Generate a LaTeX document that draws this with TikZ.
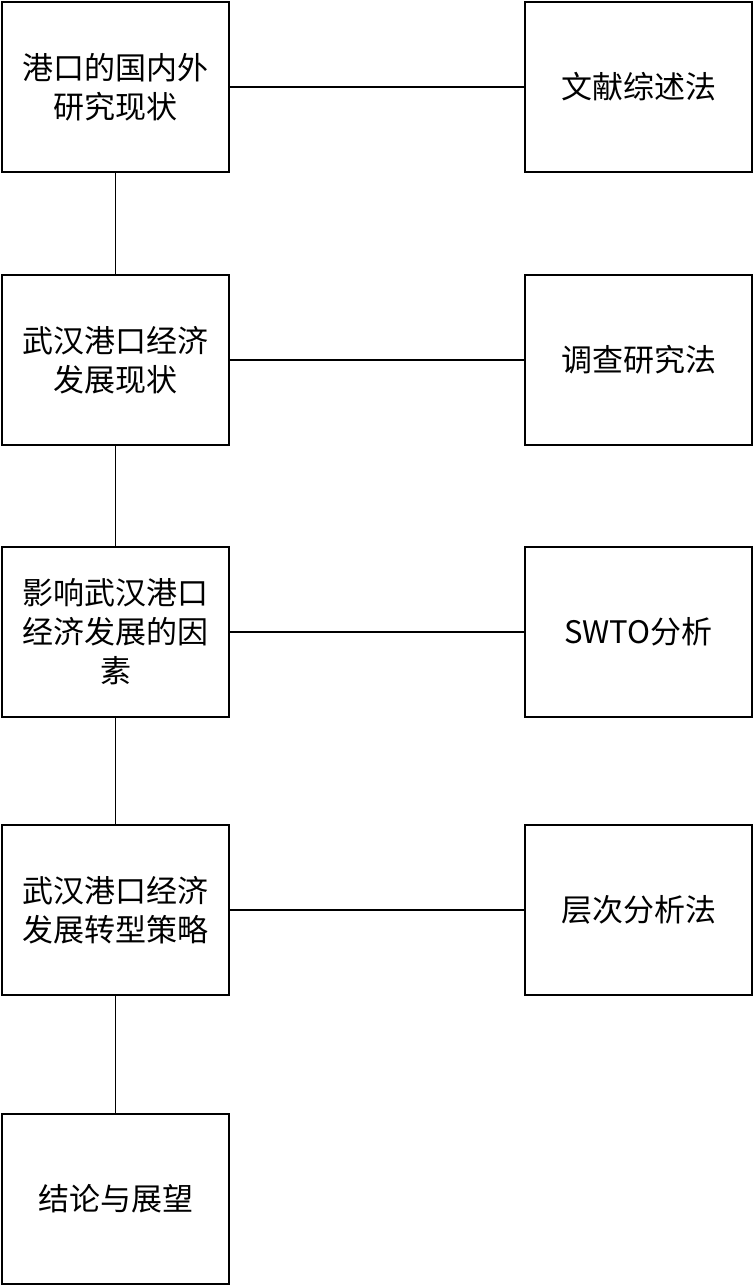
\documentclass[tikz,border=0pt]{standalone}
\usepackage{fontspec}
\newfontfamily\cjk{Noto Sans CJK SC}
\usetikzlibrary{positioning}

\begin{document}
\begin{tikzpicture}[
  x=1pt, y=1pt,
  stage/.style={rectangle, draw=black, line width=1.1pt, fill=white,
                minimum width=227pt, minimum height=170pt,
                inner sep=0pt, outer sep=0pt,
                text width=205pt, align=center,
                font=\cjk\fontsize{31}{39}\selectfont},
  method/.style={stage},
  link/.style={draw=black, line width=1.1pt}
]
\useasboundingbox (0,0) rectangle (754,-1286);

% research stages
\node[stage] (s1) at (115.5,-87) {港口的国内外\\研究现状};
\node[stage, below=103pt of s1] (s2) {武汉港口经济\\发展现状};
\node[stage, below=102pt of s2] (s3) {影响武汉港口\\经济发展的因\\素};
\node[stage, below=108pt of s3] (s4) {武汉港口经济\\发展转型策略};
\node[stage, below=119pt of s4] (s5) {结论与展望};

% methods
\node[method, right=296pt of s1] (m1) {文献综述法};
\node[method, right=296pt of s2] (m2) {调查研究法};
\node[method, right=296pt of s3] (m3) {SWTO分析};
\node[method, right=296pt of s4] (m4) {层次分析法};

\draw[link] (s1) -- (s2);
\draw[link] (s2) -- (s3);
\draw[link] (s3) -- (s4);
\draw[link] (s4) -- (s5);
\draw[link] (s1) -- (m1);
\draw[link] (s2) -- (m2);
\draw[link] (s3) -- (m3);
\draw[link] (s4) -- (m4);
\end{tikzpicture}
\end{document}
